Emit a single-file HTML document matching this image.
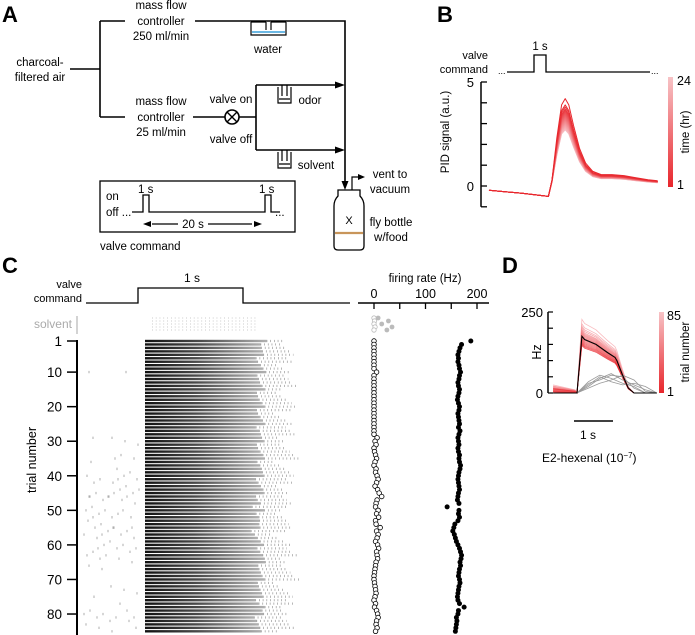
<!DOCTYPE html>
<html><head><meta charset="utf-8">
<style>
html,body{margin:0;padding:0;background:#fff;}
svg{display:block;font-family:"Liberation Sans",Arial,sans-serif;}
</style></head>
<body>
<svg id="fig" width="695" height="635" viewBox="0 0 695 635" xmlns="http://www.w3.org/2000/svg">
<defs>
  <linearGradient id="rasterGrad" x1="0" x2="1" y1="0" y2="0">
    <stop offset="0" stop-color="#111"/>
    <stop offset="0.45" stop-color="#4a4a4a"/>
    <stop offset="1" stop-color="#b0b0b0"/>
  </linearGradient>
  <linearGradient id="cbarB" x1="0" x2="0" y1="0" y2="1">
    <stop offset="0" stop-color="#f7c3c6"/>
    <stop offset="1" stop-color="#e8262c"/>
  </linearGradient>
</defs>

<!-- ================= PANEL A ================= -->
<g stroke="#000" stroke-width="1.6" fill="none">
  <text x="2" y="22" font-size="22" font-weight="bold" fill="#000" stroke="none">A</text>
  <g fill="#000" stroke="none" font-size="11.5" text-anchor="middle">
    <text x="40" y="66">charcoal-</text>
    <text x="40" y="81">filtered air</text>
    <text x="161" y="9">mass flow</text>
    <text x="161" y="25">controller</text>
    <text x="161" y="40">250 ml/min</text>
    <text x="161" y="105">mass flow</text>
    <text x="161" y="121">controller</text>
    <text x="161" y="136">25 ml/min</text>
    <text x="268" y="53">water</text>
    <text x="231" y="103">valve on</text>
    <text x="231" y="143">valve off</text>
    <text x="310" y="104">odor</text>
    <text x="316" y="169">solvent</text>
    <text x="390" y="178">vent to</text>
    <text x="390" y="193">vacuum</text>
    <text x="349" y="224" font-size="11">X</text>
    <text x="391" y="226">fly bottle</text>
    <text x="391" y="241">w/food</text>
  </g>
  <path d="M70 69 H100 M100 21 V117 M100 21 H125 M195 21 H345 V183 M100 117 H125 M193 117 H225 M239 117 H256 M256 85 V150 M256 85 H340 M256 150 H340"/>
  <path d="M345 85 l-10 -3.5 v7 z M345 150 l-10 -3.5 v7 z M345 190 l-3.5 -9 h7 z" fill="#000" stroke="none"/>
  <circle cx="232" cy="117" r="7"/>
  <path d="M227 112 L237 122 M237 112 L227 122" stroke-width="1.4"/>
  <path d="M251 22 V35 H286 V22 M251 22 H266 M271 22 H286 M266 22 V30 M271 22 V30" stroke-width="1.2"/>
  <line x1="252" y1="32" x2="285" y2="32" stroke="#3aa0dc" stroke-width="1.4"/>
  <path d="M278 87 V103 H291 V87 M282 85 V96 M287 85 V96 M279 99 H290" stroke-width="1.2"/>
  <path d="M278 152 V168 H291 V152 M282 150 V161 M287 150 V161 M279 164 H290" stroke-width="1.2"/>
  <path d="M352 190 V177 H360" stroke-width="1.2"/>
  <path d="M365 177 l-7 -3 v6 z" fill="#000" stroke="none"/>
  <path d="M338 190 H360 V196 Q364 200 364 206 V246 Q364 250 360 250 H338 Q334 250 334 246 V206 Q334 200 338 196 Z" stroke-width="1.3"/>
  <line x1="335" y1="233" x2="363" y2="233" stroke="#c8955a" stroke-width="2.2"/>
  <rect x="100" y="181" width="195" height="51" stroke-width="1.3"/>
  <g fill="#000" stroke="none" font-size="11.5">
    <text x="106" y="200">on</text>
    <text x="106" y="216">off ...</text>
    <text x="138" y="193">1 s</text>
    <text x="259" y="193">1 s</text>
    <text x="275" y="216">...</text>
    <text x="193" y="228" text-anchor="middle">20 s</text>
    <text x="100" y="250">valve command</text>
  </g>
  <path d="M132 212 H143 V195 H149 V212 H265 V195 H271 V212 H280" stroke-width="1.3"/>
  <path d="M152 224 H178 M208 224 H252" stroke-width="1.2"/>
  <path d="M143 224 l8 -3 v6 z M262 224 l-8 -3 v6 z" fill="#000" stroke="none"/>
</g>

<!-- ================= PANEL B ================= -->
<g id="panelB">
  <text x="437" y="22" font-size="22" font-weight="bold">B</text>
  <text x="488" y="59" font-size="11" text-anchor="end">valve</text>
  <text x="488" y="73" font-size="11" text-anchor="end">command</text>
  <text x="498" y="74" font-size="9">...</text>
  <text x="651" y="74" font-size="9">...</text>
  <path d="M507 72 H534 V55 H546 V72 H650" stroke="#000" stroke-width="1.3" fill="none"/>
  <text x="540" y="50" font-size="11.5" text-anchor="middle">1 s</text>
  <text transform="translate(449,132) rotate(-90)" font-size="11.5" text-anchor="middle">PID signal (a.u.)</text>
  <rect x="668" y="77" width="5" height="110" fill="url(#cbarB)"/>
  <text x="677" y="85" font-size="12.5">24</text>
  <text x="677" y="189" font-size="12.5">1</text>
  <text transform="translate(689,132) rotate(-90)" font-size="11.5" text-anchor="middle">time (hr)</text>
</g>

<!-- ================= PANEL C ================= -->
<g id="panelC">
  <text x="2" y="273" font-size="22" font-weight="bold">C</text>
  <text x="82" y="288" font-size="11" text-anchor="end">valve</text>
  <text x="82" y="302" font-size="11" text-anchor="end">command</text>
  <path d="M86 303 H138 V288 H243 V303 H350" stroke="#000" stroke-width="1.3" fill="none"/>
  <text x="192" y="282" font-size="12" text-anchor="middle">1 s</text>
  <text x="72" y="328" font-size="12" fill="#aaa" text-anchor="end">solvent</text>
  <line x1="77" y1="316" x2="77" y2="334" stroke="#bbb" stroke-width="1.3"/>
  <text transform="translate(36,460) rotate(-90)" font-size="12.5" text-anchor="middle">trial number</text>
  <text x="425" y="282" font-size="11.5" text-anchor="middle">firing rate (Hz)</text>
</g>

<!-- ================= PANEL D ================= -->
<g id="panelD">
  <text x="502" y="273" font-size="22" font-weight="bold">D</text>
  <text transform="translate(541,352) rotate(-90)" font-size="12.5" text-anchor="middle">Hz</text>
  <rect x="659" y="312" width="5" height="81" fill="url(#cbarB)"/>
  <text x="667" y="320" font-size="12.5">85</text>
  <text x="667" y="396" font-size="12.5">1</text>
  <text transform="translate(689,352) rotate(-90)" font-size="11.5" text-anchor="middle">trial number</text>
  <line x1="574" y1="421" x2="613" y2="421" stroke="#000" stroke-width="1.5"/>
  <text x="588" y="439" font-size="12" text-anchor="middle">1 s</text>
  <text x="542" y="462" font-size="12">E2-hexenal (10<tspan baseline-shift="super" font-size="8">−7</tspan>)</text>
</g>
</svg>

<script>
// ---------- Panel B data ----------
const pidTime  = [-3.75,-1,1.2,1.5,1.9,2.3,2.6,2.9,3.3,3.8,4.3,4.9,5.6,6.5,7.5,8.5,9.5,10.3];
const pidShape = [-0.2,-0.35,-0.5,0.3,2.3,3.9,4.2,3.9,2.9,1.8,1.1,0.7,0.55,0.55,0.5,0.4,0.3,0.25];
const pidPeaks = [4.2,3.9,3.8,3.7,3.65,3.6,3.55,3.5,3.45,3.4,3.35,3.3,3.25,3.2,3.15,3.1,3.05,3.0,2.95,2.9,2.85,2.8,2.75,2.7];
const pidTicks = [-1,0,1,2,3,4,5];
const pidTickLabels = ["","0","","","","","5"];

// ---------- Panel C data ----------
const odorRate = [188,170,167,165,163,164,163,165,166,168,166,165,163,164,166,165,163,162,164,166,165,163,164,165,166,164,167,165,163,164,165,163,164,166,165,166,168,167,165,164,163,164,165,166,164,163,162,165,142,165,164,166,163,157,155,153,156,158,160,163,166,168,170,169,167,168,166,165,164,166,167,165,164,163,162,163,166,175,164,163,160,161,160,159,158];
const baseRate = [0,0,0,0,0,0,0,0,0,5,0,0,0,0,0,0,0,0,0,0,0,0,0,0,0,0,0,0,6,2,4,0,1,3,5,2,0,4,3,6,8,5,2,7,10,15,6,4,3,8,5,9,3,4,12,5,8,6,3,7,9,5,6,7,4,3,2,1,0,0,1,2,3,4,2,0,3,1,5,7,8,5,4,6,3];
const solventOdor = [8,28,15,35,25];
const solventBase = [0,1,0,2,0];
const trialTicks = [1,10,20,30,40,50,60,70,80];
const rateTicks = [0,50,100,150,200];
const rateTickLabels = ["0","","100","","200"];

// ---------- Panel D data ----------
const dTime = [-0.63,-0.05,0,0.13,0.2,0.5,0.8,1.0,1.05,1.2,1.35,1.5,2.1];
const dMean = [0,0,0,175,165,150,125,110,100,55,15,0,0];
const redScale = [1.3,1.22,1.18,1.15,1.12,1.1,1.08,1.06,1.04,1.02,1.0,0.98,0.96,0.94,0.92,0.9,0.88,0.86,0.84];
const redPre = [25,18,22,10,15,8,20,12,5,16,14,9,6,11,7,4,13,3,0];
const grayTime = [-0.63,0,0.3,0.6,0.9,1.2,1.5,1.8,2.1];
const grayA = [0,0,35,55,45,30,20,0,0];
const grayB = [0,0,20,45,60,40,25,10,0];
const grayC = [0,0,30,40,55,50,15,0,0];
const grayD = [0,0,15,30,40,55,40,5,0];
const grayE = [0,0,25,50,35,25,30,20,0];
const dTicks = [0,50,100,150,200,250];
const dTickLabels = ["0","","","","","250"];

const NS = "http://www.w3.org/2000/svg";
function mk(parent, tag, attrs){ const e=document.createElementNS(NS,tag); for(const k in attrs) e.setAttribute(k,attrs[k]); parent.appendChild(e); return e; }

// ---- Panel B ----
(function(){
  const g = document.getElementById('panelB');
  const xB = t => 534 + t*12;
  const yB = v => 186 - v*20.8;
  const ax = mk(g,'line',{x1:481,y1:yB(5),x2:481,y2:yB(-1),stroke:'#000','stroke-width':1.5});
  
  
  pidTicks.forEach((v,i)=>{
    const t = mk(g,'line',{x1:481,y1:yB(v),x2:487,y2:yB(v),stroke:'#000','stroke-width':1.3});
    
    
    if(pidTickLabels[i]){
      const l = mk(g,'text',{x:474,y:yB(v)+5,'font-size':13,'text-anchor':'end'});
      l.textContent = pidTickLabels[i];
      
      
    }
  });
  const n = pidPeaks.length;
  for(let k=n-1;k>=0;k--){
    const f = pidPeaks[k]/4.2;
    const frac = k/(n-1);
    const r=Math.round(232+(247-232)*frac), gg=Math.round(38+(190-38)*frac), b=Math.round(44+(195-44)*frac);
    const d = pidTime.map((t,i)=>(i?'L':'M')+xB(t).toFixed(1)+' '+yB(pidShape[i]>0?pidShape[i]*f:pidShape[i]).toFixed(1)).join(' ');
    const p = mk(g,'path',{d:d,fill:'none',stroke:`rgb(${r},${gg},${b})`,'stroke-width':1,'stroke-linejoin':'round'});
    
    
  }
})();

// ---- Panel C ----
(function(){
  const g = document.getElementById('panelC');
  const yT = i => 341 + (i-1)*3.456;
  const xR = v => 374 + v*0.515;
  const ax = mk(g,'line',{x1:77,y1:340,x2:77,y2:635,stroke:'#000','stroke-width':2});
  
  
  trialTicks.forEach(v=>{
    const t = mk(g,'line',{x1:67,y1:yT(v),x2:77,y2:yT(v),stroke:'#000','stroke-width':1.5});
    
    
    const l = mk(g,'text',{x:62,y:yT(v)+5,'font-size':13.5,'text-anchor':'end'});
    l.textContent = v;
    
    
  });
  const ra = mk(g,'line',{x1:358,y1:303,x2:489,y2:303,stroke:'#000','stroke-width':1.4});
  
  
  rateTicks.forEach((v,i)=>{
    const t = mk(g,'line',{x1:xR(v),y1:303,x2:xR(v),y2:309,stroke:'#000','stroke-width':1.3});
    
    
    if(rateTickLabels[i]){
      const l = mk(g,'text',{x:xR(v),y:298,'font-size':12.5,'text-anchor':'middle'});
      l.textContent = rateTickLabels[i];
      
      
    }
  });
  solventOdor.forEach((v,i)=>{
    const y = 318 + i*3;
    const s = mk(g,'line',{x1:152,y1:y,x2:258,y2:y,stroke:'#c4c4c4','stroke-width':1.2,'stroke-dasharray':'0.7 3.1'});
    
    
    const c1 = mk(g,'circle',{cx:xR(solventBase[i]),cy:y,r:2.2,fill:'#fff',stroke:'#bbb','stroke-width':0.8});
    
    
    const c2 = mk(g,'circle',{cx:xR(v),cy:y,r:2.4,fill:'#bbb'});
    
    
  });
  odorRate.forEach((v,k)=>{
    const i = k+1, y = yT(i);
    const w = 100 + (v-140)*0.45 + (k%5)*2;
    const r = mk(g,'rect',{x:145,y:y-1.2,width:w,height:2.4,fill:'url(#rasterGrad)'});
    
    
    const tail = mk(g,'line',{x1:145+w,y1:y,x2:145+w+18+(k%7)*3,y2:y,stroke:'#999','stroke-width':2.2,'stroke-dasharray':'0.7 3'});
    
    
    const nb = Math.round(baseRate[k]/3);
    for(let j=0;j<nb;j++){
      const xs = 84 + ((j*37 + k*13) % 56);
      const sp = mk(g,'line',{x1:xs,y1:y-1.2,x2:xs,y2:y+1.2,stroke:'#777','stroke-width':0.6});
      
      
    }
    const c1 = mk(g,'circle',{cx:xR(baseRate[k]),cy:y,r:2.3,fill:'#fff',stroke:'#000','stroke-width':0.8});
    
    
    const c2 = mk(g,'circle',{cx:xR(v),cy:y,r:2.5,fill:'#000'});
    
    
  });
})();

// ---- Panel D ----
(function(){
  const g = document.getElementById('panelD');
  const xD = t => 577 + t*38;
  const yD = v => 393 - v*81/250;
  const ax = mk(g,'line',{x1:548,y1:312,x2:548,y2:393,stroke:'#000','stroke-width':1.5});
  
  
  dTicks.forEach((v,i)=>{
    const t = mk(g,'line',{x1:548,y1:yD(v),x2:553,y2:yD(v),stroke:'#000','stroke-width':1.2});
    
    
    if(dTickLabels[i]){
      const l = mk(g,'text',{x:543,y:yD(v)+5,'font-size':13,'text-anchor':'end'});
      l.textContent = dTickLabels[i];
      
      
    }
  });
  const n = redScale.length;
  redScale.forEach((s,k)=>{
    const frac = k/(n-1);
    const r=Math.round(247-(247-232)*frac), gg=Math.round(170-(170-38)*frac), b=Math.round(175-(175-44)*frac);
    const pts = dTime.map((t,i)=>{ let v=dMean[i]*s; if(i<2) v = redPre[k]*(i===0?1:0.4); return (i?'L':'M')+xD(t).toFixed(1)+' '+yD(v).toFixed(1); }).join(' ');
    const p = mk(g,'path',{d:pts,fill:'none',stroke:`rgb(${r},${gg},${b})`,'stroke-width':0.8,opacity:0.8});
    
    
  });
  [grayA,grayB,grayC,grayD,grayE].forEach(arr=>{
    const d = grayTime.map((t,i)=>(i?'L':'M')+xD(t).toFixed(1)+' '+yD(arr[i]).toFixed(1)).join(' ');
    const p = mk(g,'path',{d:d,fill:'none',stroke:'#999','stroke-width':0.8});
    
    
  });
  const d = dTime.map((t,i)=>(i?'L':'M')+xD(t).toFixed(1)+' '+yD(dMean[i]).toFixed(1)).join(' ');
  const m = mk(g,'path',{d:d,fill:'none',stroke:'#000','stroke-width':1.1});
  
  
})();
</script>
</body></html>
